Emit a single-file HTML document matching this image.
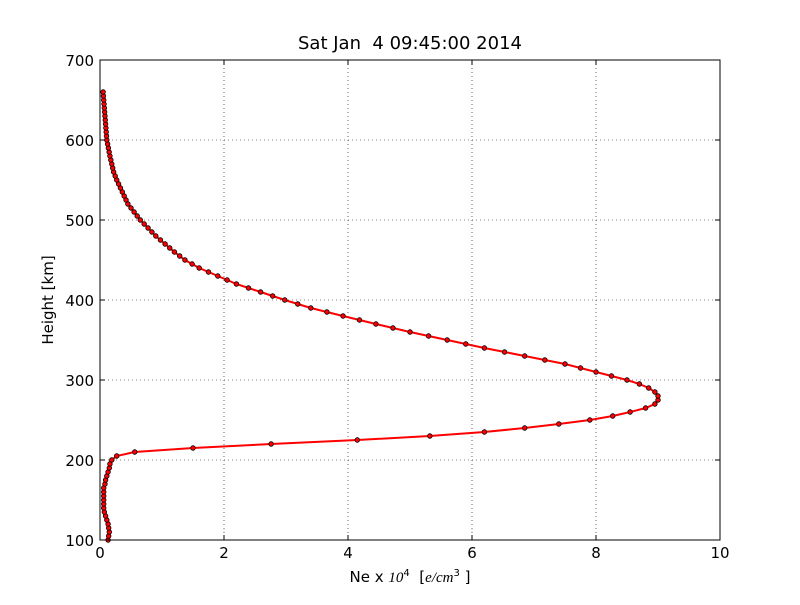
<!DOCTYPE html>
<html><head><meta charset="utf-8"><style>
body{margin:0;background:#fff}
svg text{font-family:"DejaVu Sans","Liberation Sans",sans-serif;fill:#000}
</style></head><body>
<svg id="s" width="800" height="600" xmlns="http://www.w3.org/2000/svg">
<rect width="800" height="600" fill="#fff"/>
<g stroke="#000" stroke-width="0.6" stroke-dasharray="1,3">
<line x1="224" y1="60" x2="224" y2="540"/><line x1="348" y1="60" x2="348" y2="540"/>
<line x1="472" y1="60" x2="472" y2="540"/><line x1="596" y1="60" x2="596" y2="540"/>
<line x1="100" y1="140" x2="720" y2="140"/><line x1="100" y1="220" x2="720" y2="220"/>
<line x1="100" y1="300" x2="720" y2="300"/><line x1="100" y1="380" x2="720" y2="380"/>
<line x1="100" y1="460" x2="720" y2="460"/>
</g>
<g id="data"></g>
<rect x="100" y="60" width="620" height="480" fill="none" stroke="#000" stroke-width="1"/>
<g stroke="#000" stroke-width="1" id="ticks"></g>
<g font-size="15" text-anchor="middle">
<text x="100" y="558">0</text><text x="224" y="558">2</text><text x="348" y="558">4</text>
<text x="472" y="558">6</text><text x="596" y="558">8</text><text x="720" y="558">10</text>
</g>
<g font-size="15" text-anchor="end">
<text x="94" y="66">700</text><text x="94" y="146">600</text><text x="94" y="226">500</text>
<text x="94" y="306">400</text><text x="94" y="386">300</text><text x="94" y="466">200</text>
<text x="94" y="546">100</text>
</g>
<text x="410" y="49" font-size="18" text-anchor="middle">Sat Jan&#160; 4 09:45:00 2014</text>
<text x="410" y="582" font-size="15" text-anchor="middle">Ne x <tspan font-family="Liberation Serif" font-style="italic">10</tspan><tspan font-size="10" dy="-6">4</tspan><tspan dy="6">&#160; [</tspan><tspan font-family="Liberation Serif" font-style="italic">e/cm</tspan><tspan font-size="10" dy="-6">3</tspan><tspan dy="6"> ]</tspan></text>
<text transform="translate(53,300) rotate(-90)" font-size="15" text-anchor="middle">Height [km]</text>
</svg>
<script>
var A=[[100,.13],[105,.14],[110,.15],[115,.14],[120,.13],[125,.11],[130,.09],[135,.07],[140,.06],[165,.06],[170,.08],[175,.09],[180,.11],[185,.13],[190,.15],[195,.16],[200,.19],[205,.27],[210,.56],[215,1.5],[220,2.76],[225,4.15],[230,5.32],[235,6.2],[240,6.85],[245,7.4],[250,7.9],[255,8.27],[260,8.55],[265,8.8],[270,8.95],[275,9.0],[280,9.0],[285,8.95],[290,8.85],[295,8.7],[300,8.5],[310,8.0],[320,7.5],[330,6.85],[340,6.2],[350,5.6],[360,5.0],[370,4.45],[380,3.92],[390,3.4],[400,2.98],[420,2.2],[440,1.6],[450,1.37],[460,1.2],[480,.9],[500,.65],[520,.45],[540,.33],[550,.27],[560,.22],[580,.16],[600,.11],[620,.09],[640,.07],[660,.05]];
function f(h){for(var i=0;i<A.length-1;i++){if(h>=A[i][0]&&h<=A[i+1][0]){var t=(h-A[i][0])/(A[i+1][0]-A[i][0]);return A[i][1]+t*(A[i+1][1]-A[i][1]);}}return A[A.length-1][1];}
var pts=[];for(var h=100;h<=660;h+=5){pts.push([100+62*f(h),540-0.8*(h-100)]);}
var ns="http://www.w3.org/2000/svg",g=document.getElementById("data");
var p=document.createElementNS(ns,"polyline");p.setAttribute("points",pts.map(function(q){return q[0].toFixed(1)+","+q[1].toFixed(1)}).join(" "));
p.setAttribute("fill","none");p.setAttribute("stroke","#f00");p.setAttribute("stroke-width","2");g.appendChild(p);
pts.forEach(function(q){var c=document.createElementNS(ns,"circle");c.setAttribute("cx",q[0]);c.setAttribute("cy",q[1]);c.setAttribute("r","2.3");c.setAttribute("fill","#f00");c.setAttribute("stroke","#000");c.setAttribute("stroke-width","0.8");g.appendChild(c);});
var t=document.getElementById("ticks"),s="";
for(var i=0;i<=5;i++){var x=100+124*i;s+='<line x1="'+x+'" y1="540" x2="'+x+'" y2="535"/><line x1="'+x+'" y1="60" x2="'+x+'" y2="65"/>';}
for(var i=0;i<=6;i++){var y=60+80*i;s+='<line x1="100" y1="'+y+'" x2="105" y2="'+y+'"/><line x1="720" y1="'+y+'" x2="715" y2="'+y+'"/>';}
t.innerHTML=s;
</script>
</body></html>
